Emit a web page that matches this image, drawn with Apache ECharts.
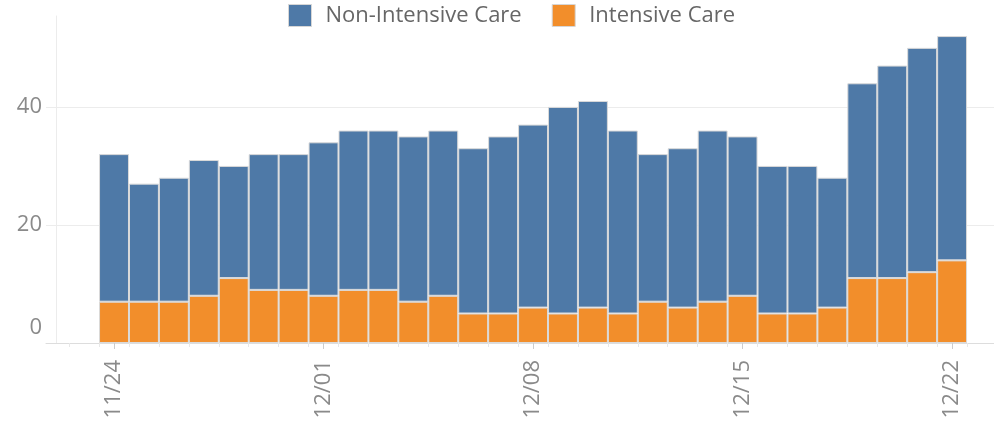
<!DOCTYPE html>
<html>
<head>
<meta charset="utf-8">
<script src="https://cdn.jsdelivr.net/npm/echarts@6/dist/echarts.min.js"></script>
<style>html,body{margin:0;padding:0;background:#fff}#c{width:994px;height:422px}</style>
</head>
<body>
<div id="c"></div>
<script>
var dates = ['11/24','11/25','11/26','11/27','11/28','11/29','11/30','12/01','12/02','12/03','12/04','12/05','12/06','12/07','12/08','12/09','12/10','12/11','12/12','12/13','12/14','12/15','12/16','12/17','12/18','12/19','12/20','12/21','12/22'];
var intensive    = [7, 7, 7, 8, 11, 9, 9, 8, 9, 9, 7, 8, 5, 5, 6, 5, 6, 5, 7, 6, 7, 8, 5, 5, 6, 11, 11, 12, 14];
var nonIntensive = [25,20,21,23,19,23,23,26,27,27,28,28,28,30,31,35,35,31,25,27,29,27,25,25,22,33,36,38,38];
var labelDays = [0, 7, 14, 21, 28];
var yTicks = [0, 20, 40];

var FONT = '"Open Sans", "Noto Sans", sans-serif';
var minorTicks = [];
for (var k = -2; k < dates.length; k++) minorTicks.push(k + 0.5);

var chart = echarts.init(document.getElementById('c'), null, {renderer: 'canvas'});
var barStyle = {borderColor: '#dadada', borderWidth: 1};
chart.setOption({
  animation: false,
  color: ['#4e79a7', '#f28e2b'],
  legend: {
    data: ['Non-Intensive Care', 'Intensive Care'],
    left: 288, top: 4, padding: 0,
    icon: 'rect', itemWidth: 23, itemHeight: 22, itemGap: 30,
    itemStyle: {borderColor: '#d6d6d6', borderWidth: 1},
    textStyle: {fontFamily: FONT, fontSize: 22, color: '#666', padding: [2, 0, 0, 9]}
  },
  grid: {left: 46, right: 0, top: 16, bottom: 79, containLabel: false},
  xAxis: [{
    type: 'value', min: -2.272, max: 29.40,
    axisLine: {show: true, onZero: false, lineStyle: {color: '#dddddd'}},
    splitLine: {show: false},
    axisTick: {show: true, customValues: labelDays, length: 6, lineStyle: {color: '#cccccc'}},
    axisLabel: {customValues: labelDays, rotate: 90, margin: 17, fontFamily: FONT, fontSize: 22, color: '#8a8a8a',
      formatter: function (v) { return dates[Math.round(v)] || ''; }}
  }, {
    type: 'value', min: -2.272, max: 29.40, position: 'bottom',
    axisLine: {show: false, onZero: false}, splitLine: {show: false}, axisLabel: {show: false},
    axisTick: {show: true, customValues: minorTicks, length: 4, lineStyle: {color: '#e8e8e8'}}
  }],
  yAxis: {
    type: 'value', min: 0, max: 55.4, interval: 20, offset: -10,
    axisLine: {show: true, onZero: false, lineStyle: {color: '#ececec'}},
    axisTick: {show: false},
    splitLine: {show: true, showMaxLine: false, showMinLine: false, lineStyle: {color: '#ececec'}},
    axisLabel: {margin: 14, showMaxLabel: false, fontFamily: FONT, fontSize: 22, color: '#8a8a8a',
      formatter: function (v) { if (yTicks.indexOf(v) < 0) return ''; return v === 0 ? '{z|0}' : String(v); },
      rich: {z: {fontFamily: FONT, fontSize: 22, color: '#8a8a8a', padding: [0, 0, 30, 0]}}}
  },
  series: [{
    name: 'Intensive Care', type: 'bar', stack: 'total', barWidth: 29.93,
    encode: {x: 1, y: 0},
    itemStyle: Object.assign({color: '#f28e2b'}, barStyle),
    data: intensive.map(function (v, i) { return [v, i]; })
  }, {
    name: 'Non-Intensive Care', type: 'bar', stack: 'total', barWidth: 29.93,
    encode: {x: 1, y: 0},
    itemStyle: Object.assign({color: '#4e79a7'}, barStyle),
    data: nonIntensive.map(function (v, i) { return [v, i]; })
  }]
});
</script>
</body>
</html>
